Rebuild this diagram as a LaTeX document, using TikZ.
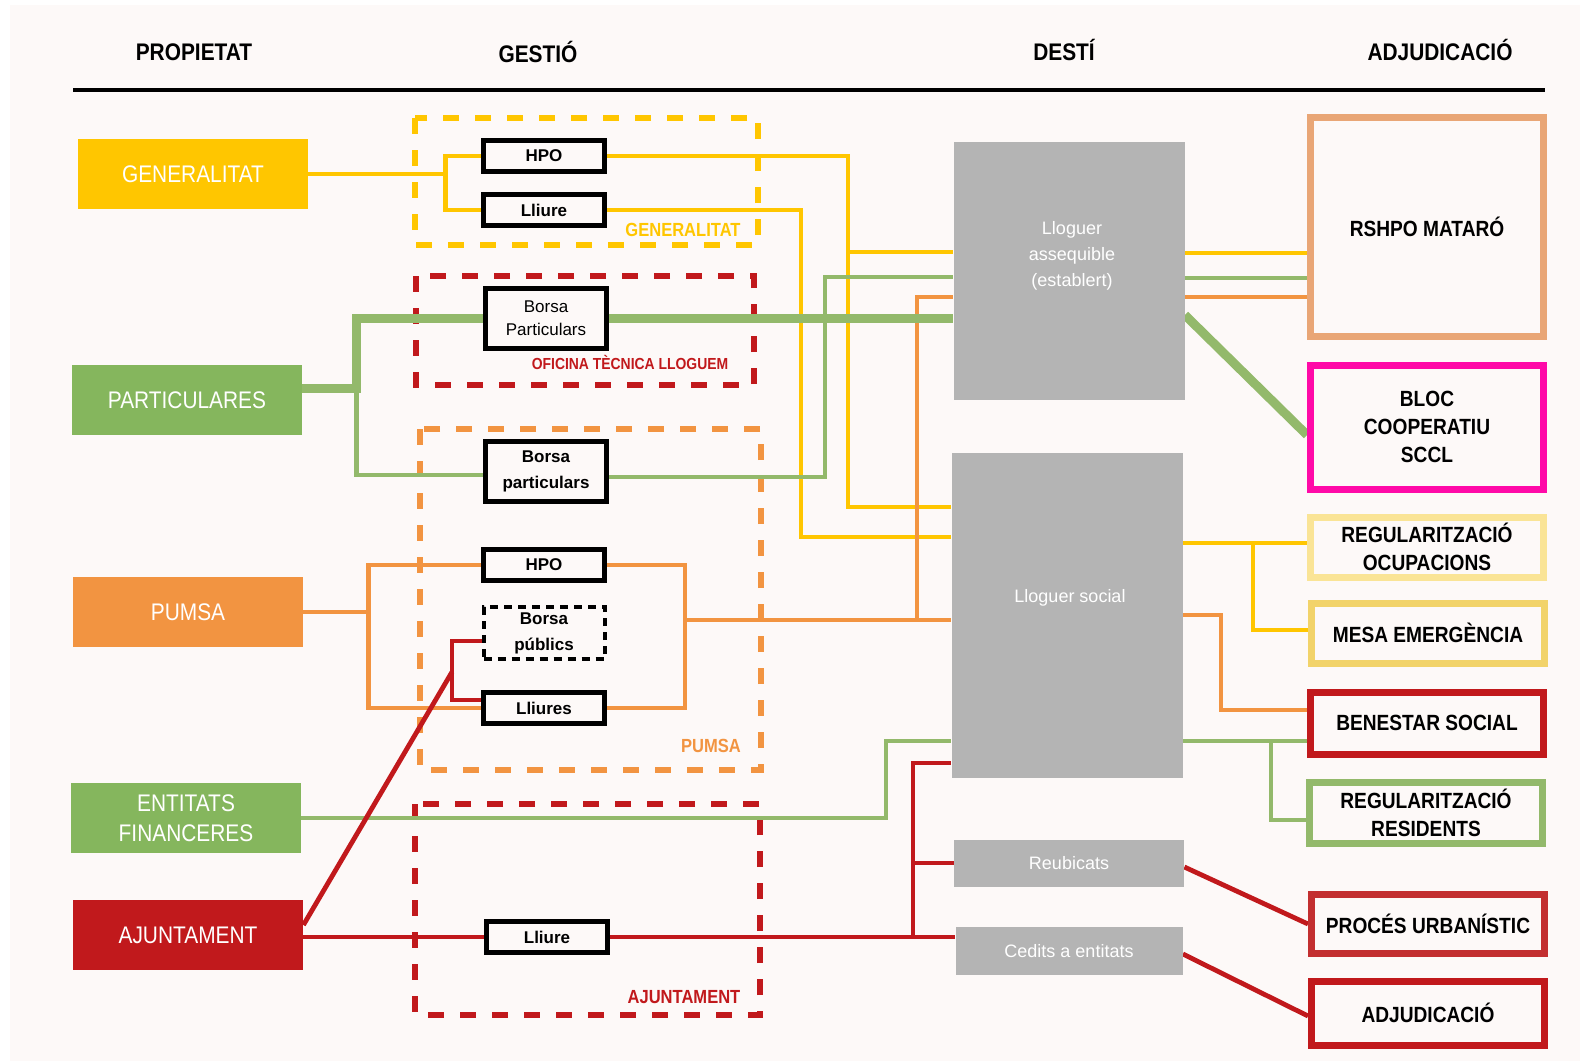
\documentclass[tikz,border=0pt]{standalone}
\usepackage{fontspec}
\setmainfont{Liberation Sans}
\newfontfamily\condfont{Liberation Sans}[FakeStretch=0.87]
\usetikzlibrary{calc}
\pgfdeclarelayer{background}
\pgfsetlayers{background,main}
\definecolor{paper}{HTML}{FDF9F8}
\definecolor{genyellow}{HTML}{FFC600}
\definecolor{partgreen}{HTML}{85B65D}
\definecolor{linegreen}{HTML}{93B96B}
\definecolor{pumsaorange}{HTML}{F29441}
\definecolor{ajunred}{HTML}{C1191C}
\definecolor{destgray}{HTML}{B4B4B4}
\definecolor{rshposalmon}{HTML}{E9A676}
\definecolor{blocpink}{HTML}{FF0AA8}
\definecolor{ocupyellow}{HTML}{FAE496}
\definecolor{mesayellow}{HTML}{F2D36A}
\definecolor{procesred}{HTML}{C32F30}

\begin{document}
\begin{tikzpicture}[x=0.5pt,y=-0.5pt,
    header/.style={font=\condfont\bfseries\fontsize{12}{14}\selectfont},
    propbox/.style={minimum width=115pt,minimum height=35pt,inner sep=0pt,text=white,align=center,font=\condfont\fontsize{12}{15}\selectfont},
    gestbox/.style={draw=black,line width=2.5pt,fill=paper,minimum width=60.5pt,minimum height=15.5pt,inner sep=0pt,align=center,font=\bfseries\fontsize{8.5}{13}\selectfont},
    destbox/.style={fill=destgray,inner sep=0pt,text=white,align=center,font=\fontsize{9}{13}\selectfont},
    desttxt/.style={text=white,align=center,font=\fontsize{9}{13}\selectfont},
    adjbox/.style={line width=3.5pt,fill=paper,minimum width=116.5pt,inner sep=0pt,align=center,font=\condfont\bfseries\fontsize{11}{14}\selectfont},
    grup/.style={line width=3.3pt,dash pattern=on 8pt off 8pt},
    grupname/.style={font=\condfont\bfseries\fontsize{9.5}{11}\selectfont},
    link/.style={line width=2.4pt},
    thicklink/.style={line width=4.5pt}]

    \useasboundingbox (0,0) rectangle (1580,1061);
    \begin{pgfonlayer}{background}
        \fill[paper] (10,5) rectangle (1580,1061);
        \draw[grup,genyellow] (415,118) rectangle (758,245);
        \draw[grup,ajunred] (416,276) rectangle (754,385);
        \draw[grup,pumsaorange] (420,429) rectangle (761,770);
        \draw[grup,ajunred] (415,804) rectangle (760,1015);
    \end{pgfonlayer}

    \node[header] (hprop) at (194,52) {PROPIETAT};
    \node[header] (hgest) at (538,52) {GESTIÓ};
    \node[header] (hdest) at (1064,50) {DESTÍ};
    \node[header] (hadj) at (1440,50) {ADJUDICACIÓ};
    \draw[line width=2pt] (73,90) -- (1545,90);

    % propietat
    \node[propbox,fill=genyellow] (gen) at (193,174) {GENERALITAT};
    \node[propbox,fill=partgreen] (part) at (187,400) {PARTICULARES};
    \node[propbox,fill=pumsaorange] (pumsa) at (188,612) {PUMSA};
    \node[propbox,fill=partgreen] (entf) at (186,818) {ENTITATS\\FINANCERES};
    \node[propbox,fill=ajunred] (ajun) at (188,935) {AJUNTAMENT};

    % gestio
    \node[gestbox] (hpoG) at (544,156) {HPO};
    \node[gestbox] (lliureG) at (544,210) {Lliure};
    \node[gestbox,minimum height=30pt,font=\fontsize{8.5}{11.5}\selectfont] (borsaP) at (546,318) {Borsa\\Particulars};
    \node[gestbox,minimum height=30pt] (borsap) at (546,471) {Borsa\\particulars};
    \node[gestbox] (hpoP) at (544,565) {HPO};
    \node[gestbox,line width=2pt,dash pattern=on 4pt off 3pt,minimum height=26pt] (borsaPub) at (544,633) {Borsa\\públics};
    \node[gestbox] (lliuresP) at (544,708) {Lliures};
    \node[gestbox] (lliureA) at (547,937) {Lliure};

    \node[grupname,text=genyellow] (genL) at (683,230) {GENERALITAT};
    \node[grupname,text=ajunred,font=\condfont\bfseries\fontsize{8}{10}\selectfont] (otlL) at (630,362) {OFICINA TÈCNICA LLOGUEM};
    \node[grupname,text=pumsaorange] (pumsaL) at (711,746) {PUMSA};
    \node[grupname,text=ajunred] (ajunL) at (684,997) {AJUNTAMENT};

    % desti
    \node[destbox,minimum width=115.5pt,minimum height=129pt] (assq) at (1069,271) {};
    \node[desttxt] (assqT) at (1072,256) {Lloguer\\assequible\\(establert)};
    \node[destbox,minimum width=115.5pt,minimum height=162.5pt] (social) at (1067,615) {};
    \node[desttxt] (socialT) at (1070,598) {Lloguer social};
    \node[destbox,minimum width=115pt,minimum height=23.5pt] (reub) at (1069,863) {Reubicats};
    \node[destbox,minimum width=113.5pt,minimum height=24pt] (cedits) at (1069,951) {Cedits a entitats};

    % adjudicacio
    \node[adjbox,draw=rshposalmon,minimum height=109.5pt] (rshpo) at (1427,227) {RSHPO MATARÓ};
    \node[adjbox,draw=blocpink,minimum height=62pt] (bloc) at (1427,427) {BLOC\\COOPERATIU\\SCCL};
    \node[adjbox,draw=ocupyellow,minimum height=30pt] (regoc) at (1427,547) {REGULARITZACIÓ\\OCUPACIONS};
    \node[adjbox,draw=mesayellow,minimum height=30pt] (mesa) at (1428,633) {MESA EMERGÈNCIA};
    \node[adjbox,draw=ajunred,minimum height=31pt] (benes) at (1427,723) {BENESTAR SOCIAL};
    \node[adjbox,draw=linegreen,minimum height=30.5pt] (regres) at (1426,813) {REGULARITZACIÓ\\RESIDENTS};
    \node[adjbox,draw=procesred,minimum height=29.5pt] (proces) at (1428,924) {PROCÉS URBANÍSTIC};
    \node[adjbox,draw=ajunred,minimum height=32pt] (adjud) at (1428,1013) {ADJUDICACIÓ};

    \coordinate (jHpoA) at (848,252);
    \coordinate (jHpoS) at (848,507);
    \coordinate (jLli) at (801,537);
    \coordinate (jBorsa) at (825,277);
    \coordinate (jPumsaR) at (685,620);
    \coordinate (jAssq) at (917,620);
    \coordinate (jBenes) at (1221,710);
    \coordinate (jEntf) at (886,741);
    \coordinate (jCedits) at (913,937);
    \coordinate (jPub) at (452,700);
    \coordinate (jDiag) at (452,672);

    \begin{pgfonlayer}{background}
        % generalitat
        \draw[link,genyellow] (gen.east) -- ++(137,0) coordinate (jGen) |- (hpoG.west);
        \draw[link,genyellow] (jGen) |- (lliureG.west);
        \draw[link,genyellow] (hpoG.east) -| (jHpoS) -- (jHpoS -| social.west);
        \draw[link,genyellow] (jHpoA) -- (jHpoA -| assq.west);
        \draw[link,genyellow] (lliureG.east) -| (jLli) -- (jLli -| social.west);
        \draw[link,genyellow] ([yshift=9pt]assq.east) coordinate (aY) -- (aY -| rshpo.west);
        \draw[link,genyellow] ([yshift=36pt]social.east) coordinate (sY) -- (sY -| regoc.west);
        \draw[link,genyellow] (sY) ++(70,0) coordinate (jMesa) |- ([yshift=1.5pt]mesa.west);

        % pumsa
        \draw[link,pumsaorange] (pumsa.east) -- ++(65,0) coordinate (jPumsa) |- (hpoP.west);
        \draw[link,pumsaorange] (jPumsa) |- (lliuresP.west);
        \draw[link,pumsaorange] (hpoP.east) -| (jPumsaR) |- (lliuresP.east);
        \draw[link,pumsaorange] (jPumsaR) -- (jPumsaR -| social.west);
        \draw[link,pumsaorange] (jAssq) |- ([yshift=-13pt]assq.west);
        \draw[link,pumsaorange] ([yshift=-13pt]assq.east) coordinate (aO) -- (aO -| rshpo.west);
        \draw[link,pumsaorange] (social.east) -| (jBenes) -- (jBenes -| benes.west);

        % particulares i entitats
        \draw[thicklink,linegreen] ([yshift=6pt]part.east) -- ++(54,0) coordinate (jPart) |- (borsaP.west);
        \draw[link,linegreen] (jPart) |- ([yshift=-2pt]borsap.west);
        \draw[thicklink,linegreen] (borsaP.east) -- (borsaP.east -| assq.west);
        \draw[link,linegreen] ([yshift=-3pt]borsap.east) -| (jBorsa) -- (jBorsa -| assq.west);
        \draw[link,linegreen] ([yshift=-3.5pt]assq.east) coordinate (aG) -- (aG -| rshpo.west);
        \draw[thicklink,linegreen] ([yshift=-22pt]assq.east) -- ([yshift=-4pt]bloc.west);
        \draw[link,linegreen] (entf.east) -| (jEntf) -- (jEntf -| social.west);
        \draw[link,linegreen] ([yshift=-63pt]social.east) coordinate (sG) -- (sG -| benes.west);
        \draw[link,linegreen] (sG) ++(88,0) coordinate (jRes) |- ([yshift=-3.5pt]regres.west);

        % ajuntament
        \draw[link,ajunred] (ajun.east |- lliureA.west) -- (lliureA.west);
        \draw[link,ajunred] (lliureA.east) -- (lliureA.east -| cedits.west);
        \draw[link,ajunred] (jCedits) |- ([yshift=-74pt]social.west);
        \draw[link,ajunred] (jCedits |- reub.west) -- (reub.west);
        \draw[link,ajunred] ([yshift=-4pt]borsaPub.west) -| (jPub) -- ([yshift=4pt]lliuresP.west);
        \draw[link,ajunred] ([yshift=5pt]ajun.east) -- (jDiag);
        \draw[link,ajunred] ([yshift=-2pt]reub.east) -- (proces.west);
        \draw[link,ajunred] ([yshift=-1.5pt]cedits.east) -- ([yshift=-1.5pt]adjud.west);
    \end{pgfonlayer}
\end{tikzpicture}
\end{document}
